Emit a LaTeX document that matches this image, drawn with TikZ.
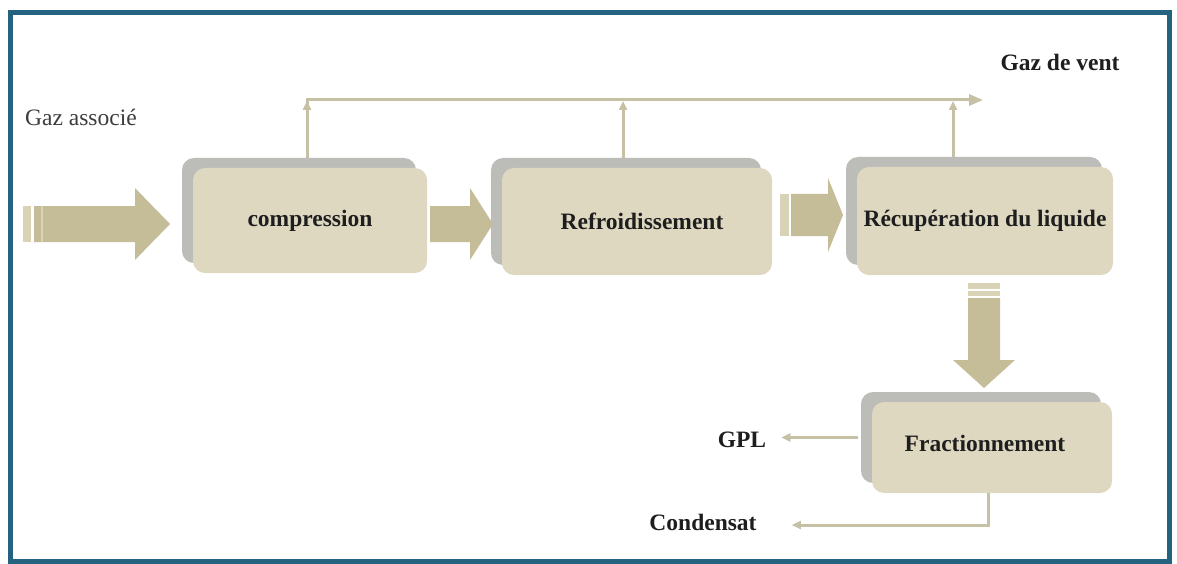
\documentclass[tikz,border=0pt]{standalone}
\usepackage{fontspec}
\setmainfont{Liberation Serif}
\usetikzlibrary{arrows.meta,shadows,calc}
\definecolor{boxfill}{RGB}{222,216,193}
\definecolor{shadowgray}{RGB}{188,188,184}
\definecolor{arrowfill}{RGB}{197,189,152}
\definecolor{stripelight}{RGB}{216,210,182}
\definecolor{linecol}{RGB}{198,192,164}
\definecolor{bordercol}{RGB}{36,98,128}
\definecolor{textdark}{RGB}{30,30,30}
\definecolor{textgray}{RGB}{60,60,60}
\begin{document}
\begin{tikzpicture}[x=1pt,y=-1pt,
  stepbox/.style={fill=boxfill, rounded corners=12pt,
    copy shadow={shadow xshift=-11pt, shadow yshift=10pt, fill=shadowgray, draw=none},
    font=\fontsize{23.5}{27}\selectfont\bfseries, text=textdark, inner sep=0pt},
  lbl/.style={font=\fontsize{23.5}{27}\selectfont\bfseries, text=textdark, inner sep=0pt},
  flow/.style={draw=linecol, line width=3pt},
  bigtip/.style={-{Triangle[length=14pt,width=11pt]}},
  smalltip/.style={-{Triangle[length=9pt,width=8pt]}},
  bigarrow/.style={fill=arrowfill},
  stripe/.style={fill=stripelight}]
\useasboundingbox (0,0) rectangle (1177,564);
\fill[white] (0,0) rectangle (1177,564);
\draw[draw=bordercol, line width=5pt] (10,13) rectangle (1169,561);

% boxes
\node[stepbox, minimum width=234pt, minimum height=105pt] (comp) at (310,220.5) {compression};
\node[stepbox, minimum width=270pt, minimum height=107pt] (refr) at (637,221.5) {\hspace*{10pt}Refroidissement};
\node[stepbox, minimum width=256pt, minimum height=108pt] (rec) at (985,221) {Récupération du liquide};
\node[stepbox, minimum width=240pt, minimum height=91pt] (frac) at (992,447.5) {\hspace*{-14pt}\raisebox{9pt}{Fractionnement}};

% labels
\node[font=\fontsize{23.5}{27}\selectfont, text=textgray, inner sep=0pt, anchor=west] (assoc) at (25,117) {Gaz associé};
\node[lbl] (vlabel) at (1060,62) {Gaz de vent};
\node[lbl] (gpl) at (742,440) {GPL};
\node[lbl] (cond) at (703,522) {Condensat};

% big block arrows
\fill[stripe] (23,206) rectangle (31,242);
\fill[bigarrow] (34,206) -- (135,206) -- (135,188) -- (170,224) -- (135,260) -- (135,242) -- (34,242) -- cycle;
\fill[stripe] (41,206) rectangle (43,242);

\fill[bigarrow] (430,206) -- (470,206) -- (470,188) -- (493,224) -- (470,260) -- (470,242) -- (430,242) -- cycle;

\fill[stripe] (780,194) rectangle (789,236);
\fill[bigarrow] (791,194) -- (828,194) -- (828,178) -- (843,215) -- (828,252) -- (828,236) -- (791,236) -- cycle;

\fill[stripe] (968,283) rectangle (1000,289);
\fill[stripe] (968,291) rectangle (1000,296);
\fill[bigarrow] (968,298) -- (968,360) -- (953,360) -- (984,388) -- (1015,360) -- (1000,360) -- (1000,298) -- cycle;

% vent gas lines
\coordinate (vent) at (983,100);
\draw[flow, bigtip] ($(comp.north)+(-3,-10)$) |- (vent);
\draw[flow, smalltip] ($(comp.north)+(-3,-10)$) -- ++(0,-57);
\draw[flow, smalltip] ($(refr.north)+(-14,-10)$) coordinate (r2) -- ($(r2 |- vent)+(0,1)$);
\draw[flow, smalltip] ($(rec.north)+(-32,-10)$) coordinate (r3) -- ($(r3 |- vent)+(0,1)$);

% products
\coordinate (gplend) at ($(gpl.east)+(15,0)$);
\draw[flow, smalltip] ($(frac.west)+(-14,-10)$) coordinate (g0) -- (g0 -| gplend);
\draw[flow, smalltip] ($(frac.south)+(-4,0)$) |- ($(cond.east)+(35,3)$);
\end{tikzpicture}
\end{document}
